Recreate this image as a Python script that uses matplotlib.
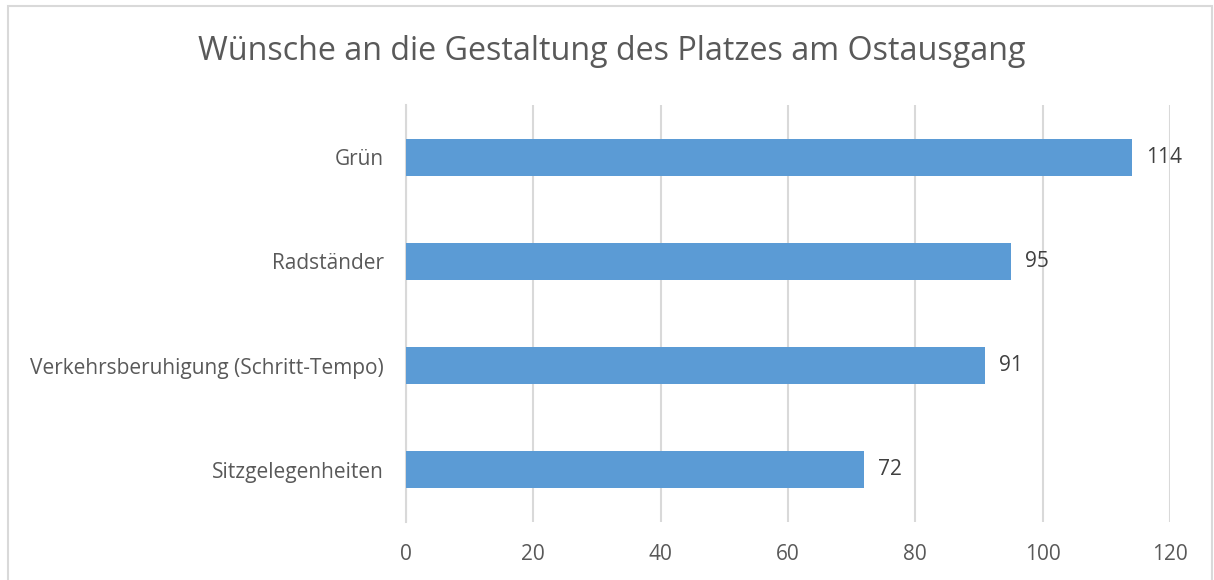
"""Wünsche an die Gestaltung des Platzes am Ostausgang - horizontal bar chart."""

import matplotlib

matplotlib.use("Agg")

import matplotlib.pyplot as plt
from matplotlib.patches import Rectangle

categories = [
    "Grün",
    "Radständer",
    "Verkehrsberuhigung (Schritt-Tempo)",
    "Sitzgelegenheiten",
]
counts = [114, 95, 91, 72]
x_ticks = [0, 20, 40, 60, 80, 100, 120]

BAR_COLOR = "#5B9BD5"
GRID_COLOR = "#D9D9D9"
TEXT_COLOR = "#595959"

plt.rcParams["font.family"] = ["Open Sans", "DejaVu Sans"]

W, H = 1214, 580
fig = plt.figure(figsize=(W / 100, H / 100), dpi=100)
ax = fig.add_axes([406 / W, 1 - 522 / H, (1170 - 406) / W, (522 - 105) / H])

# chart frame
fig.patches.append(
    Rectangle((8 / W, -0.01), (1212 - 8) / W, 1 - 6 / H + 0.01,
              transform=fig.transFigure, fill=False, edgecolor=GRID_COLOR,
              linewidth=1.5)
)

y_pos = list(range(len(categories)))
ax.barh(y_pos, counts, height=0.355, color=BAR_COLOR, zorder=3)
ax.set_ylim(len(categories) - 0.5, -0.5)
ax.set_yticks(y_pos)
ax.set_yticklabels(categories)

ax.set_xlim(0, 120)
ax.set_xticks(x_ticks)
ax.xaxis.grid(True, color=GRID_COLOR, linewidth=1.5, zorder=0)
ax.set_axisbelow(True)

for side in ["top", "right", "bottom"]:
    ax.spines[side].set_visible(False)
ax.spines["left"].set_color(GRID_COLOR)
ax.spines["left"].set_linewidth(1.5)

ax.tick_params(axis="both", length=0, labelsize=15, labelcolor=TEXT_COLOR)
ax.tick_params(axis="x", pad=16)
ax.tick_params(axis="y", pad=16)

for y, value in zip(y_pos, counts):
    ax.annotate(str(value), (value, y), xytext=(10, 0), textcoords="offset points",
                va="center", ha="left", fontsize=15, color="#404040")

fig.text(612 / W, 1 - 52 / H, "Wünsche an die Gestaltung des Platzes am Ostausgang",
         ha="center", va="center", fontsize=23.2, color=TEXT_COLOR)

fig.savefig("out.png", dpi=100)
